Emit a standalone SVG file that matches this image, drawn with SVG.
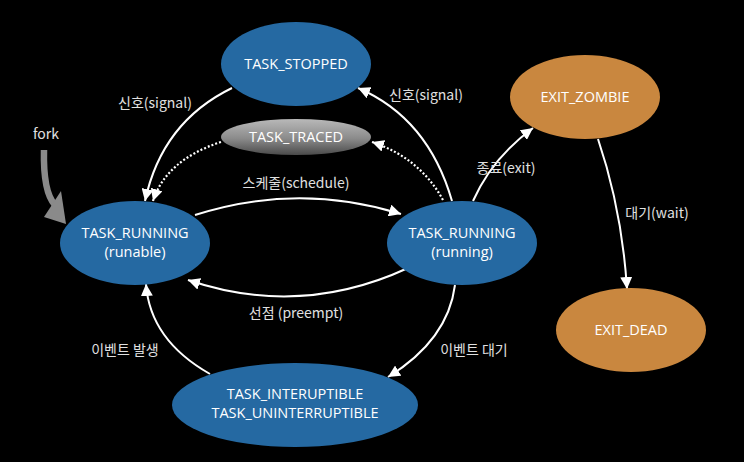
<svg xmlns="http://www.w3.org/2000/svg" width="744" height="462" viewBox="0 0 744 462">
<style>
.blue{fill:#2569a2}
.orange{fill:#c9873f}
.nt{font-family:"Open Sans","Noto Sans",sans-serif;font-size:14.5px;fill:#fff;text-anchor:middle}
.lb{font-family:"Noto Sans CJK KR","Noto Sans",sans-serif;font-size:14px;fill:#e0e0e0;text-anchor:middle}
.c{fill:none;stroke:#fff;stroke-width:2;marker-end:url(#ah)}
.d{fill:none;stroke:#fff;stroke-width:2.2;stroke-dasharray:2 2;marker-end:url(#ah)}
</style>
<defs>
<marker id="ah" markerUnits="userSpaceOnUse" markerWidth="14" markerHeight="12" refX="12" refY="6" orient="auto">
<path d="M0,0 L12,6 L0,12 Z" fill="#fff"/>
</marker>
<linearGradient id="gr" x1="0" y1="0" x2="0" y2="1">
<stop offset="0" stop-color="#b9b9b9"/>
<stop offset="0.55" stop-color="#8a8a8a"/>
<stop offset="1" stop-color="#4a4a4a"/>
</linearGradient>
</defs>
<rect width="744" height="462" fill="#000"/>
<g id="connectors">
<path class="c" d="M232 88 Q162 122 145 201"/>
<path class="c" d="M452 201 Q428 118 358 88"/>
<path class="d" d="M221 142 Q166 160 153 201"/>
<path class="d" d="M443 200 Q420 158 372 142"/>
<path class="c" d="M195 215 Q298 182 401 214"/>
<path class="c" d="M408 268 Q300 318 188 280"/>
<path class="c" d="M210 374 Q150 340 146 284"/>
<path class="c" d="M455 285 Q448 340 388 377"/>
<path class="c" d="M473 201 Q492 158 533 128"/>
<path class="c" d="M598 139 Q622 210 627 289"/>
<path d="M44 150 Q43 192 55 205" fill="none" stroke="#8a8a8a" stroke-width="6.5"/>
<path d="M44 217 L61 191 L66 224 Z" fill="#8a8a8a"/>
<text class="lb" x="46" y="139">fork</text>
<text class="lb" x="155" y="108">신호(signal)</text>
<text class="lb" x="426" y="100">신호(signal)</text>
<text class="lb" x="296" y="188">스케줄(schedule)</text>
<text class="lb" x="296" y="318">선점 (preempt)</text>
<text class="lb" x="125" y="355">이벤트 발생</text>
<text class="lb" x="474" y="355">이벤트 대기</text>
<text class="lb" x="506" y="173">종료(exit)</text>
<text class="lb" x="657" y="218">대기(wait)</text>
</g>
<g id="task_stopped">
<ellipse class="blue" cx="296" cy="64" rx="75" ry="42"/>
<text class="nt" x="296" y="69">TASK_STOPPED</text>
</g>
<g id="task_traced">
<ellipse cx="296" cy="137" rx="75" ry="18" fill="url(#gr)"/>
<text class="nt" x="296" y="142" fill="#eee">TASK_TRACED</text>
</g>
<g id="task_runable">
<ellipse class="blue" cx="135" cy="243" rx="75" ry="42"/>
<text class="nt" x="135" y="238">TASK_RUNNING</text>
<text class="nt" x="135" y="257">(runable)</text>
</g>
<g id="task_running">
<ellipse class="blue" cx="462" cy="243" rx="75" ry="42"/>
<text class="nt" x="462" y="238">TASK_RUNNING</text>
<text class="nt" x="462" y="257">(running)</text>
</g>
<g id="exit_zombie">
<ellipse class="orange" cx="585" cy="97" rx="75" ry="42"/>
<text class="nt" x="585" y="102">EXIT_ZOMBIE</text>
</g>
<g id="exit_dead">
<ellipse class="orange" cx="631" cy="330" rx="75" ry="42"/>
<text class="nt" x="631" y="335">EXIT_DEAD</text>
</g>
<g id="task_interruptible">
<ellipse class="blue" cx="295" cy="405" rx="123" ry="42"/>
<text class="nt" x="295" y="399">TASK_INTERUPTIBLE</text>
<text class="nt" x="295" y="418">TASK_UNINTERRUPTIBLE</text>
</g>
</svg>
